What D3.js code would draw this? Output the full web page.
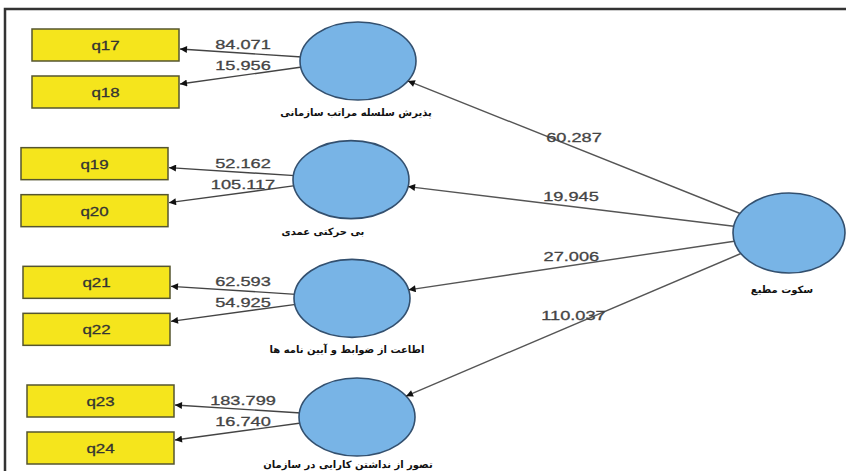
<!DOCTYPE html>
<html>
<head>
<meta charset="utf-8">
<script src="https://cdn.jsdelivr.net/npm/d3@7"></script>
<style>
  body { margin: 0; background: #fff; }
  svg { display: block; }
</style>
</head>
<body>
<div id="chart"></div>
<script>
// data
var latents = ["پذیرش سلسله مراتب سازمانی", "بی حرکتی عمدی", "اطاعت از ضوابط و آیین نامه ها", "تصور از نداشتن کارایی در سازمان"];
var rootName = "سکوت مطیع";
var pathValues = ["60.287", "19.945", "27.006", "110.037"];
var indicators = [["q17", "q18"], ["q19", "q20"], ["q21", "q22"], ["q23", "q24"]];
var loadings = [["84.071", "15.956"], ["52.162", "105.117"], ["62.593", "54.925"], ["183.799", "16.740"]];

// layout (drawing positions, not data)
var width = 846, height = 471;
var ellCx = [358, 351, 352, 357];
var labelDx = [-2, -28, -5, -9];
var rectX = [32, 21, 23, 27];
var rectW = 147, rectH = 32;
var rx = 58, ry = 39;
var root = { x: 789, y: 233, rx: 56, ry: 40 };

var svg = d3.select('#chart').append('svg')
    .attr('width', width)
    .attr('height', height);

var y = d3.scalePoint()
    .domain(latents)
    .range([61, 417]);

// arrow head
svg.append('defs').append('marker')
    .attr('id', 'arr')
    .attr('viewBox', '0 0 10 10')
    .attr('refX', 10).attr('refY', 5)
    .attr('markerWidth', 9).attr('markerHeight', 7)
    .attr('markerUnits', 'userSpaceOnUse')
    .attr('orient', 'auto')
    .append('path')
    .attr('d', 'M0,0 L10,5 L0,10 Z')
    .attr('fill', '#111');

// frame
svg.append('path')
    .attr('d', 'M5,' + height + ' V9 H' + width)
    .attr('fill', 'none')
    .attr('stroke', '#333')
    .attr('stroke-width', 2.5);

function edge(cx, cy, erx, ery, tx, ty) {
    var dx = tx - cx, dy = ty - cy;
    var t = 1 / Math.sqrt((dx / erx) * (dx / erx) + (dy / ery) * (dy / ery));
    return [cx + dx * t, cy + dy * t];
}

function stretched(g, txt, x, yy, size, fill, sx) {
    g.append('text')
        .attr('transform', 'translate(' + x + ',' + yy + ') scale(' + sx + ',1)')
        .attr('text-anchor', 'middle')
        .attr('font-family', 'Liberation Sans, Arial, sans-serif')
        .attr('font-size', size)
        .attr('fill', fill)
        .attr('stroke', fill)
        .attr('stroke-width', 0.3)
        .text(txt);
}

var rows = svg.selectAll('g.row')
    .data(latents)
    .enter().append('g')
    .attr('class', 'row');

rows.each(function(name, i) {
    var g = d3.select(this);
    var cy = y(name), cx = ellCx[i];
    var rTop = [cy - 32, cy + 15];

    // indicator arrows
    var starts = [[cx - rx + 2, cy - 4], [cx - rx + 2, cy + 6]];
    var ends = [[rectX[i] + rectW + 1, rTop[0] + rectH / 2 + 4], [rectX[i] + rectW + 1, rTop[1] + rectH / 2 - 8]];
    [0, 1].forEach(function(k) {
        g.append('line')
            .attr('x1', starts[k][0]).attr('y1', starts[k][1])
            .attr('x2', ends[k][0]).attr('y2', ends[k][1])
            .attr('stroke', '#444')
            .attr('stroke-width', 1.4)
            .attr('marker-end', 'url(#arr)');
    });

    // indicator boxes
    g.selectAll('rect')
        .data(indicators[i])
        .enter().append('rect')
        .attr('x', rectX[i])
        .attr('y', function(d, k) { return rTop[k]; })
        .attr('width', rectW)
        .attr('height', rectH)
        .attr('fill', '#f5e51c')
        .attr('stroke', '#55552f')
        .attr('stroke-width', 1.5);

    indicators[i].forEach(function(q, k) {
        stretched(g, q, rectX[i] + rectW / 2, rTop[k] + rectH / 2 + 5, 13, '#333', 1.3);
    });

    // loadings
    stretched(g, loadings[i][0], 243, cy - 12, 13, '#444', 1.4);
    stretched(g, loadings[i][1], 243, cy + 9, 13, '#444', 1.4);

    // latent ellipse
    g.append('ellipse')
        .attr('cx', cx).attr('cy', cy)
        .attr('rx', rx).attr('ry', ry)
        .attr('fill', '#78b4e6')
        .attr('stroke', '#33506f')
        .attr('stroke-width', 1.6);

    g.append('text')
        .attr('x', cx + labelDx[i])
        .attr('y', Math.min(cy + 55, height - 3))
        .attr('text-anchor', 'middle')
        .attr('direction', 'rtl')
        .attr('font-family', 'DejaVu Sans, sans-serif')
        .attr('font-size', 10)
        .attr('font-weight', 'bold')
        .attr('fill', '#111')
        .text(name);

    // structural path from root
    var s = edge(root.x, root.y, root.rx, root.ry, cx, cy);
    var e = edge(cx, cy, rx, ry, root.x, root.y);
    svg.append('line')
        .attr('x1', s[0]).attr('y1', s[1])
        .attr('x2', e[0]).attr('y2', e[1])
        .attr('stroke', '#555')
        .attr('stroke-width', 1.4)
        .attr('marker-end', 'url(#arr)');
    stretched(svg, pathValues[i], (s[0] + e[0]) / 2, (s[1] + e[1]) / 2 - 5, 13, '#444', 1.4);
});

// root ellipse
svg.append('ellipse')
    .attr('cx', root.x).attr('cy', root.y)
    .attr('rx', root.rx).attr('ry', root.ry)
    .attr('fill', '#78b4e6')
    .attr('stroke', '#33506f')
    .attr('stroke-width', 1.6);

svg.append('text')
    .attr('x', root.x - 7)
    .attr('y', root.y + 60)
    .attr('text-anchor', 'middle')
    .attr('direction', 'rtl')
    .attr('font-family', 'DejaVu Sans, sans-serif')
    .attr('font-size', 10)
    .attr('font-weight', 'bold')
    .attr('fill', '#111')
    .text(rootName);
</script>
</body>
</html>
